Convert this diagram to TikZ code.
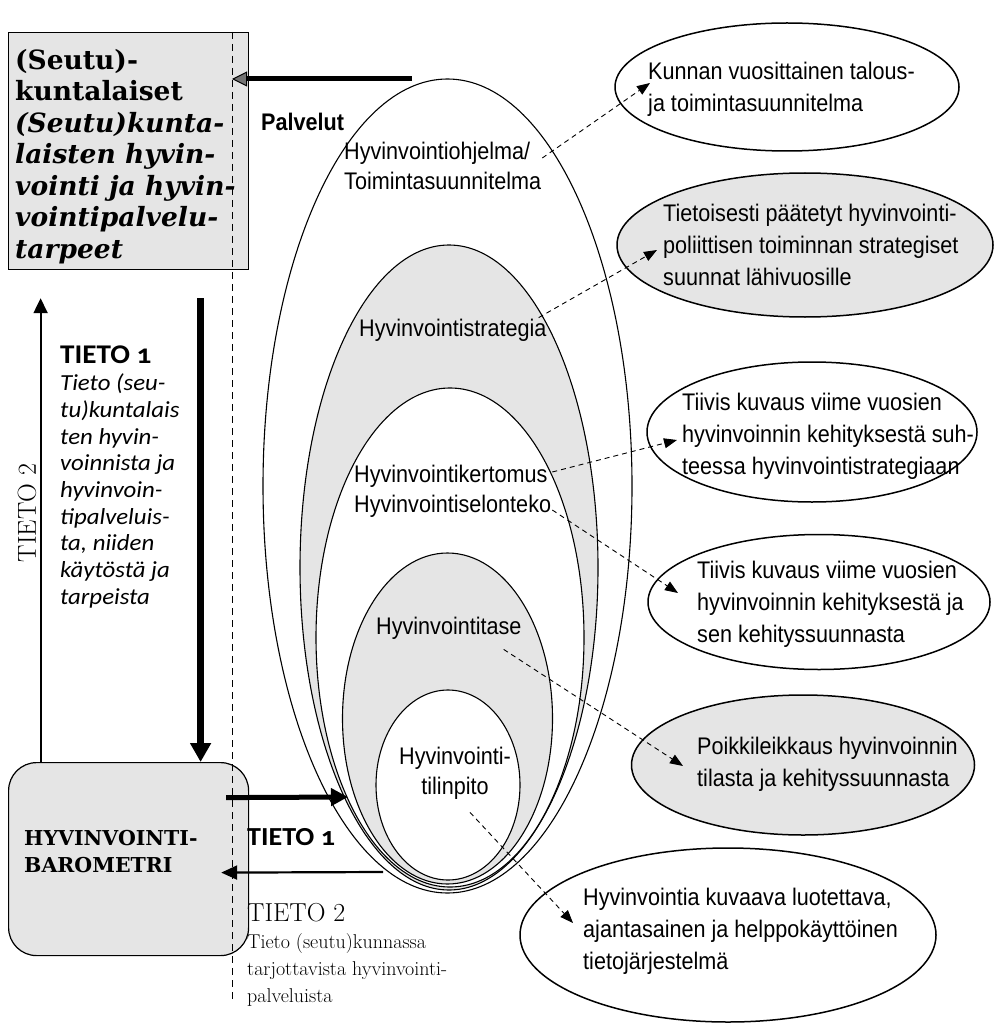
\documentclass[tikz,border=0pt]{standalone}
\usepackage{fontspec}
\usepackage{tikz}
\usetikzlibrary{arrows.meta,shapes.geometric,positioning}

\newfontfamily\arialf[FakeStretch=0.9]{Liberation Sans}
\newfontfamily\candf[Numbers=OldStyle,FakeStretch=1.08]{Carlito}
\newfontfamily\posterf{DejaVu Serif}
\definecolor{paleGray}{gray}{0.9}

\tikzset{
  oval/.style={ellipse, draw, line width=1.1pt, inner sep=0pt},
  bigoval/.style={oval, line width=1.5pt},
  panel/.style={draw, line width=1.2pt, fill=paleGray},
  lbl/.style={font=\arialf\fontsize{24}{30}\selectfont, inner sep=1pt, align=left},
  note/.style={font=\arialf\fontsize{24}{32}\selectfont, inner sep=0pt, align=left, anchor=west},
  link/.style={-{Triangle[length=13pt,width=10pt]}, dash pattern=on 5pt off 4pt, line width=0.9pt},
  fat/.style={line width=5pt},
}

\begin{document}
\begin{tikzpicture}[x=1pt, y=-1pt]
\useasboundingbox (0,0) rectangle (995,1024);

% nested ellipses
\node[oval, fill=white, minimum width=369pt, minimum height=814pt] (ohjelmaOval) at (447.5,486) {};
\node[oval, fill=paleGray, minimum width=298pt, minimum height=645pt] (strategiaOval) at (449,567.5) {};
\node[oval, fill=white, minimum width=268pt, minimum height=499pt] (kertomusOval) at (450,637.5) {};
\node[oval, fill=paleGray, minimum width=210pt, minimum height=331pt] (taseOval) at (447.5,718.5) {};
\node[oval, fill=white, minimum width=144pt, minimum height=190pt] (tilinpitoOval) at (448,785) {};

\node[lbl, anchor=west] (ohjelma) at (343,166) {Hyvinvointiohjelma/\\Toimintasuunnitelma};
\node[lbl, anchor=west] (strategia) at (358,330) {Hyvinvointistrategia};
\node[lbl, anchor=west] (kertomus) at (353,491) {Hyvinvointikertomus\\Hyvinvointiselonteko};
\node[lbl, anchor=west] (tase) at (375,628) {Hyvinvointitase};
\node[lbl, align=center] (tilinpito) at (455,773) {Hyvinvointi-\\tilinpito};
\node[lbl, font=\arialf\bfseries\fontsize{24}{30}\selectfont, anchor=west] (palvelut) at (260,122) {Palvelut};

% right ellipses
\node[bigoval, minimum width=344pt, minimum height=128pt] (kunnanOval) at (787,87) {};
\node[bigoval, fill=paleGray, minimum width=376pt, minimum height=144pt] (paatetytOval) at (805,245) {};
\node[bigoval, minimum width=330pt, minimum height=140pt] (suhteessaOval) at (812,432) {};
\node[bigoval, minimum width=342pt, minimum height=135pt] (suuntaOval) at (819,602) {};
\node[bigoval, fill=paleGray, minimum width=343pt, minimum height=140pt] (poikkiOval) at (803,765) {};
\node[bigoval, minimum width=416pt, minimum height=174pt] (jarjestelmaOval) at (728,935) {};

\node[note] (kunnanTxt) at (648,89) {Kunnan vuosittainen talous-\\ja toimintasuunnitelma};
\node[note] (paatetytTxt) at (663,245) {Tietoisesti päätetyt hyvinvointi-\\poliittisen toiminnan strategiset\\suunnat lähivuosille};
\node[note] (suhteessaTxt) at (682,436) {Tiivis kuvaus viime vuosien\\hyvinvoinnin kehityksestä suh-\\teessa hyvinvointistrategiaan};
\node[note] (suuntaTxt) at (697,604) {Tiivis kuvaus viime vuosien\\hyvinvoinnin kehityksestä ja\\sen kehityssuunnasta};
\node[note] (poikkiTxt) at (697,764) {Poikkileikkaus hyvinvoinnin\\tilasta ja kehityssuunnasta};
\node[note] (jarjestelmaTxt) at (583,931) {Hyvinvointia kuvaava luotettava,\\ajantasainen ja helppokäyttöinen\\tietojärjestelmä};

\path[link] ([yshift=8pt]ohjelma.east)              edge ([xshift=2pt,yshift=6pt]kunnanTxt.west)
            ([xshift=-9pt]strategia.north east)     edge ([xshift=-6pt,yshift=-5pt]paatetytTxt.west)
            ([yshift=19pt]kertomus.east)            edge ([xshift=-5pt,yshift=-4pt]suhteessaTxt.west)
            ([yshift=-19pt]kertomus.east)           edge ([xshift=-19pt,yshift=11pt]suuntaTxt.west)
            ([xshift=-19pt,yshift=-9pt]tase.south east) edge ([xshift=-14pt,yshift=-2pt]poikkiTxt.west)
            ([xshift=15pt,yshift=-12pt]tilinpito.south) edge ([xshift=-10pt,yshift=8pt]jarjestelmaTxt.west);

% left column
\node[panel, minimum width=240pt, minimum height=237pt, anchor=north west] (seutu) at (8,32) {};
\node[anchor=north west, inner sep=0pt, align=left, font=\posterf\bfseries\fontsize{26.5}{31.5}\selectfont] (seutuTxt) at (15,49)
  {(Seutu)-\\kuntalaiset\\\textit{(Seutu)kunta-}\\\textit{laisten hyvin-}\\\textit{vointi ja hyvin-}\\\textit{vointipalvelu-}\\\textit{tarpeet}};

\node[panel, rounded corners=28pt, minimum width=240pt, minimum height=193pt, anchor=north west] (baro) at (8,762) {};
\node[anchor=west, align=left, inner sep=0pt, font=\posterf\bfseries\fontsize{20.5}{27}\selectfont] (baroTxt) at (24,852) {HYVINVOINTI-\\BAROMETRI};

\coordinate (rajaTop) at (232,32);
\coordinate (rajaBot) at (232,1002);
\draw[dash pattern=on 7pt off 5pt, line width=0.9pt] (rajaTop) -- (rajaBot);

\coordinate (palvStart) at (412,79);
\coordinate (tietoIn) at (348,797);
\coordinate (tietoOut) at (383,872);
\draw[fat, -{Triangle[length=15pt,width=15pt,fill=black!55,line width=1pt]}] (palvStart) -- (rajaTop |- palvStart);
\draw[line width=6.5pt, -{Triangle[length=19pt,width=20pt]}] ([xshift=72pt,yshift=-28pt]seutu.south) -- ([xshift=72pt]baro.north);
\draw[line width=2pt, -{Triangle[length=15pt,width=14pt]}] ([xshift=-88pt]baro.north) -- ([xshift=-88pt,yshift=-28pt]seutu.south);
\draw[fat, -{Triangle[length=17pt,width=17pt]}] ([xshift=-23pt,yshift=61.5pt]baro.east) -- (tietoIn);
\draw[line width=2.2pt, -{Triangle[length=16pt,width=14pt]}] (tietoOut) -- ([xshift=-28pt,yshift=-13.5pt]baro.east);

\node[anchor=north west, inner sep=0pt, align=left, font=\candf\fontsize{23}{26.7}\selectfont] (tietoA) at (60,346)
  {{\bfseries\fontsize{27}{30}\selectfont TIETO 1}\\\textit{Tieto (seu-}\\\textit{tu)kuntalais}\\\textit{ten hyvin-}\\\textit{voinnista ja}\\\textit{hyvinvoin-}\\\textit{tipalveluis-}\\\textit{ta, niiden}\\\textit{käytöstä ja}\\\textit{tarpeista}};
\node[rotate=90, inner sep=0pt, font=\rmfamily\fontsize{26}{30}\selectfont] (tietoD) at (27,513) {TIETO 2};

\node[anchor=west, inner sep=0pt, font=\candf\bfseries\fontsize{26}{30}\selectfont] (tietoB) at (247,837) {TIETO 1};
\node[anchor=north west, inner sep=0pt, align=left, font=\rmfamily\fontsize{20}{27}\selectfont] (tietoC) at (247,903)
  {{\fontsize{26}{30}\selectfont TIETO 2}\\Tieto (seutu)kunnassa\\tarjottavista hyvinvointi-\\palveluista};
\end{tikzpicture}
\end{document}
